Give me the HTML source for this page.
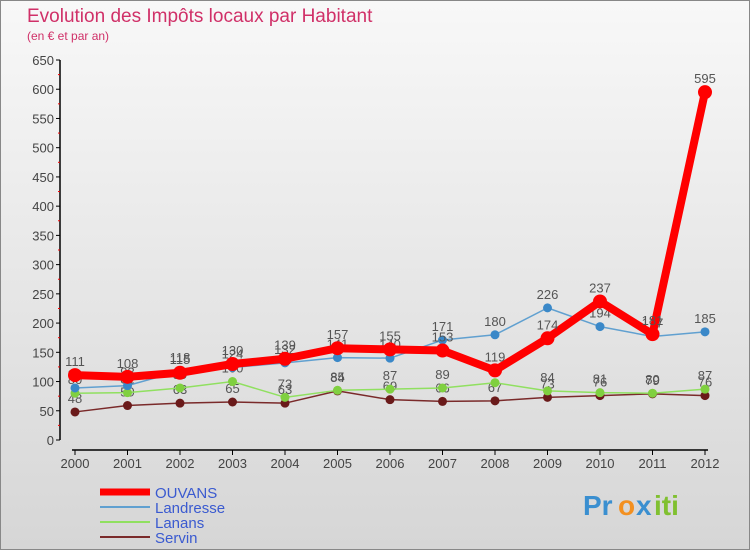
<!DOCTYPE html>
<html><head><meta charset="utf-8"><style>
body{margin:0;width:750px;height:550px;overflow:hidden;font-family:"Liberation Sans",sans-serif}
svg text{font-family:"Liberation Sans",sans-serif}
</style></head><body>
<svg width="750" height="550">
<defs><linearGradient id="bg" x1="0" y1="0" x2="0" y2="1"><stop offset="0" stop-color="#f8f8f8"/><stop offset="1" stop-color="#d6d6d6"/></linearGradient></defs>
<rect x="0.5" y="0.5" width="749" height="549" fill="url(#bg)" stroke="#888"/>
<text x="27" y="22" font-size="19" fill="#d03068">Evolution des Impôts locaux par Habitant</text>
<text x="27" y="40" font-size="12" fill="#d03068">(en € et par an)</text>
<g id="axes"></g><g id="series"></g><g id="legend"></g>
<g font-size="28" font-weight="bold">
<text x="583" y="515" fill="#3a8fd0">Pr</text><text x="618" y="515" fill="#f39020">o</text><text x="636" y="515" fill="#3a8fd0">x</text><text x="654" y="515" fill="#80c030">iti</text></g>
</svg>
<script>
const years=[2000,2001,2002,2003,2004,2005,2006,2007,2008,2009,2010,2011,2012];
const yTicks=[0,50,100,150,200,250,300,350,400,450,500,550,600,650];
const ouvans=[111,108,115,130,139,157,155,153,119,174,237,181,595];
const landresse=[89,93,118,124,132,141,140,171,180,226,194,177,185];
const lanans=[80,81,89,100,73,85,87,89,98,84,81,80,87];
const servin=[48,59,63,65,63,84,69,66,67,73,76,79,76];
const NS="http://www.w3.org/2000/svg";
const X=i=>75+i*52.5, Y=v=>440-v*380/650;
function mk(p,t,a){const e=document.createElementNS(NS,t);for(const k in a)e.setAttribute(k,a[k]);p.appendChild(e);return e;}
const ax=document.getElementById('axes');
let l=mk(ax,'line',{x1:60,y1:60,x2:60,y2:440,stroke:'#000','stroke-width':1.5});


l=mk(ax,'line',{x1:72,y1:450,x2:708,y2:450,stroke:'#000','stroke-width':1.5});


yTicks.forEach((v,i)=>{mk(ax,'line',{x1:56,y1:Y(v),x2:60,y2:Y(v),stroke:'#000'});
 if(i<yTicks.length-1)mk(ax,'line',{x1:58,y1:Y(v+25),x2:60,y2:Y(v+25),stroke:'#e00'});
 const t=mk(ax,'text',{x:54,y:Y(v)+5,'font-size':13,'text-anchor':'end',fill:'#444'});t.textContent=v;
 
 });
years.forEach((y,i)=>{mk(ax,'line',{x1:X(i),y1:450,x2:X(i),y2:455,stroke:'#000'});
 const t=mk(ax,'text',{x:X(i),y:468,'font-size':13,'text-anchor':'middle',fill:'#444'});t.textContent=y;
 
 });
const sg=document.getElementById('series');
function series(data,color,w,r,name,dot){
 const g=mk(sg,'g',{});
 
 
 mk(g,'polyline',{points:data.map((v,i)=>X(i)+','+Y(v)).join(' '),fill:'none',stroke:color,'stroke-width':w,'stroke-linejoin':'round'});
 data.forEach((v,i)=>{const c=mk(g,'circle',{cx:X(i),cy:Y(v),r:r,fill:dot||color});
  
  
  const t=mk(g,'text',{x:X(i),y:Y(v)-9,'font-size':13,'text-anchor':'middle',fill:'#555'});t.textContent=v;});
}
series(servin,'#7a2a2a',1.5,4.5,'servin-series','#6a1a1a');
series(lanans,'#90e060',1.5,4.5,'lanans-series','#80d040');
series(landresse,'#60a0d0',1.5,4.5,'landresse-series','#3a88c8');
series(ouvans,'#ff0000',8,7,'ouvans-series');
const lg=document.getElementById('legend');
[['OUVANS','#ff0000',7],['Landresse','#60a0d0',2],['Lanans','#90e060',2],['Servin','#7a2a2a',2]].forEach((d,i)=>{
 const g=mk(lg,'g',{});
 
 
 const y=492+i*15;
 mk(g,'line',{x1:100,y1:y,x2:150,y2:y,stroke:d[1],'stroke-width':d[2]});
 const t=mk(g,'text',{x:155,y:y+6,'font-size':15,fill:'#3a5ad0'});t.textContent=d[0];});
</script>
</body></html>
